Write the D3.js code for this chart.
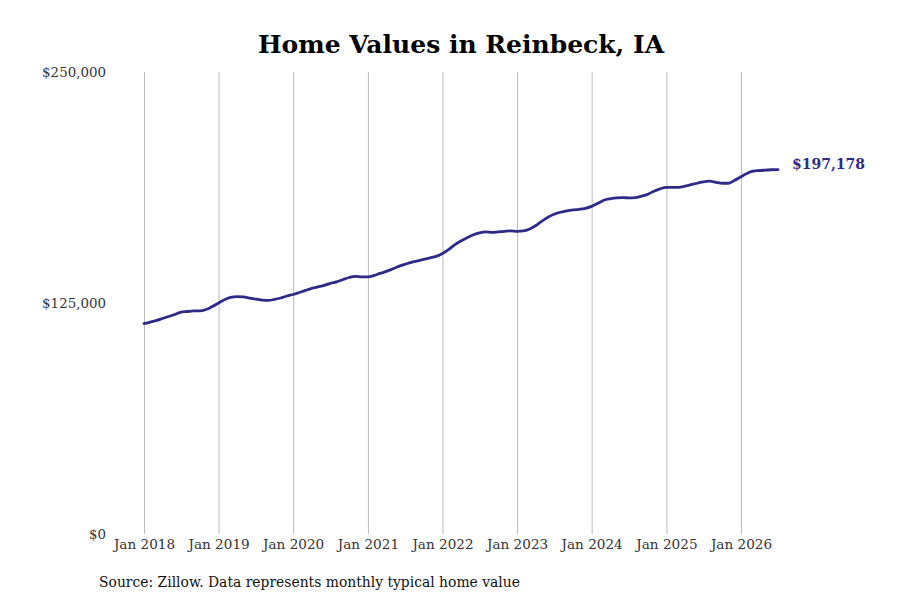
<!DOCTYPE html>
<html>
<head>
<meta charset="utf-8">
<script src="https://cdn.jsdelivr.net/npm/d3@7"></script>
<style>
  body { margin: 0; background: #fff; }
  svg { font-family: "DejaVu Serif", serif; }
</style>
</head>
<body>
<svg id="chart" width="900" height="600"></svg>
<script>
// Monthly typical home value, Jan 2018 .. Jul 2026 (in dollars)
const startYear = 2018;
const values = [
  113900, 114700, 115500, 116600, 117700, 118800, 120100, 120400, 120700, 120700, 121500, 123100,
  125000, 126900, 128000, 128500, 128300, 127700, 127100, 126600, 126400, 126900, 127700, 128800,
  129600, 130700, 131800, 132900, 133700, 134500, 135600, 136400, 137700, 138800, 139400, 139100,
  139100, 139900, 141000, 142100, 143400, 144800, 145900, 147000, 147800, 148600, 149400, 150200,
  151800, 154000, 156500, 158600, 160300, 161900, 163000, 163500, 163200, 163500, 163800, 164000,
  163800, 164000, 164900, 166800, 169200, 171400, 173000, 174100, 174900, 175400, 175700, 176200,
  177300, 179000, 180600, 181400, 181900, 182000, 181900, 182000, 182800, 183800, 185500, 186800,
  187600, 187600, 187600, 188200, 189000, 189800, 190600, 190900, 190300, 189800, 189800, 191400,
  193300, 195200, 196300, 196700, 196900, 197100, 197178
];
const yTicks = [0, 125000, 250000];
const xTickYears = [2018, 2019, 2020, 2021, 2022, 2023, 2024, 2025, 2026];

const title = "Home Values in Reinbeck, IA";
const source = "Source: Zillow. Data represents monthly typical home value";
const lineColor = "#2e2a87";

const svg = d3.select("#chart");

// month index -> date
const data = values.map((v, i) => ({ date: new Date(startYear, i, 1), value: v }));

const x = d3.scaleTime()
  .domain([new Date(2018, 0, 1), new Date(2026, 0, 1)])
  .range([144, 741]);

const y = d3.scaleLinear()
  .domain([0, 250000])
  .range([534, 72]);

// vertical grid lines + x labels
const xAxis = d3.axisBottom(x)
  .tickValues(xTickYears.map(yr => new Date(yr, 0, 1)))
  .tickSize(-(534 - 72))
  .tickPadding(5)
  .tickFormat(d3.timeFormat("Jan %Y"));

const gx = svg.append("g")
  .attr("transform", "translate(0,534)")
  .call(xAxis);
gx.select(".domain").remove();
gx.selectAll(".tick line").attr("stroke", "#bbbbbb").attr("stroke-width", 1);
gx.selectAll(".tick text")
  .attr("fill", "#333")
  .attr("font-size", 13.6)
  .attr("font-family", "DejaVu Serif, serif");

// y labels (no horizontal grid)
const yAxis = d3.axisLeft(y)
  .tickValues(yTicks)
  .tickSize(0)
  .tickPadding(0)
  .tickFormat(d => "$" + d3.format(",")(d));

const gy = svg.append("g")
  .attr("transform", "translate(106,0)")
  .call(yAxis);
gy.select(".domain").remove();
gy.selectAll(".tick text")
  .attr("fill", "#333")
  .attr("font-size", 13.4)
  .attr("font-family", "DejaVu Serif, serif");

// the line
const line = d3.line()
  .x(d => x(d.date))
  .y(d => y(d.value))
  .curve(d3.curveMonotoneX);

svg.append("path")
  .datum(data)
  .attr("d", line)
  .attr("fill", "none")
  .attr("stroke", lineColor)
  .attr("stroke-width", 2.8)
  .attr("stroke-linejoin", "round")
  .attr("stroke-linecap", "round");

// end label
const last = data[data.length - 1];
svg.append("text")
  .attr("x", x(last.date) + 14)
  .attr("y", y(last.value) - 5)
  .attr("dominant-baseline", "middle")
  .attr("fill", lineColor)
  .attr("font-size", 14)
  .attr("font-weight", "bold")
  .text("$" + d3.format(",")(last.value));

// title
svg.append("text")
  .attr("x", 461)
  .attr("y", 53)
  .attr("text-anchor", "middle")
  .attr("font-size", 25)
  .attr("font-weight", "bold")
  .attr("fill", "#000")
  .text(title);

// source note
svg.append("text")
  .attr("x", 99)
  .attr("y", 587)
  .attr("font-size", 13.9)
  .attr("fill", "#111")
  .text(source);
</script>
</body>
</html>
